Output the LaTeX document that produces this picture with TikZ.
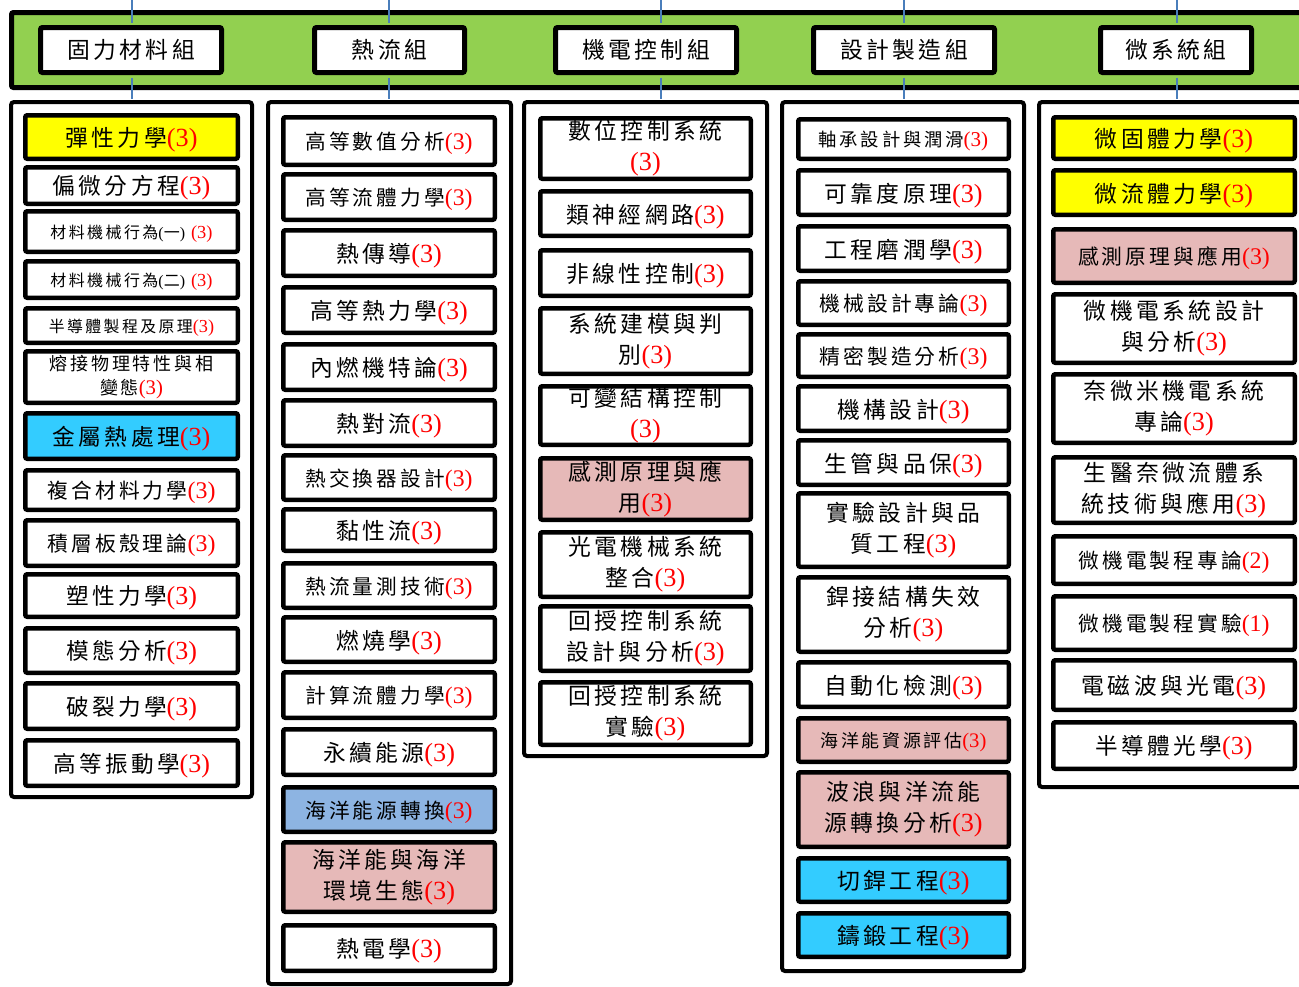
\documentclass[tikz,border=0pt]{standalone}
\usepackage{fontspec}
\setmainfont{Liberation Serif}
\newfontfamily\cjk{Noto Sans CJK TC}[LetterSpace=15]
\definecolor{bandgreen}{HTML}{92D050}
\definecolor{cyellow}{HTML}{FFFF00}
\definecolor{ccyan}{HTML}{33CCFF}
\definecolor{cpink}{HTML}{E6B9B8}
\definecolor{cblue}{HTML}{8DB4E2}
\definecolor{linkblue}{HTML}{4A7EBB}
\makeatletter
\newcommand\cz[1]{\fontsize{\fpeval{0.97*#1}}{\fpeval{1.32*#1}}\selectfont\cjk}
\newcommand\cred[1]{{\rmfamily\color{red}\fontsize{\fpeval{1.15*\f@size}}{\f@baselineskip}\selectfont(#1)}}
\makeatother
\tikzset{
  band/.style={draw=black, line width=5pt, fill=bandgreen, rounded corners=2pt, inner sep=0pt},
  head/.style={draw=black, line width=5pt, fill=white, rounded corners=2pt, inner sep=0pt, font=\cz{23.5}},
  colbox/.style={draw=black, line width=4pt, fill=white, rounded corners=3pt, inner sep=0pt},
  crs/.style={draw=black, line width=4.5pt, fill=white, rounded corners=2pt, inner sep=0pt, align=center,
    execute at begin node={\rule{0pt}{1.08em}}},
  fs/.style={font=\cz{#1}},
  link/.style={draw=linkblue, line width=1.5pt},
  c1w/.style={minimum width=212.5pt},
  c2w/.style={minimum width=211.5pt},
  c3w/.style={minimum width=210.5pt},
  c4w/.style={minimum width=210.5pt},
  c5w/.style={minimum width=241.5pt},
}
\begin{document}
\begin{tikzpicture}[x=1pt, y=-1pt]
\useasboundingbox (0,0) rectangle (1299,986);
\clip (0,0) rectangle (1299,986);
% green band and group headers
\node[band, minimum width=1308.5pt, minimum height=75pt] (bandbox) at (665.75,50) {};
\node[head, minimum width=181pt, minimum height=45pt] (h1) at (131,50) {固力材料組};
\node[head, minimum width=150pt, minimum height=45pt] (h2) at (389.5,50) {熱流組};
\node[head, minimum width=181pt, minimum height=45pt] (h3) at (646,50) {機電控制組};
\node[head, minimum width=181pt, minimum height=45pt] (h4) at (904,50) {設計製造組};
\node[head, minimum width=151pt, minimum height=45pt] (h5) at (1176,50) {微系統組};
% column containers
\node[colbox, minimum width=241pt, minimum height=695pt] (c1) at (131.5,449.5) {};
\node[colbox, minimum width=243pt, minimum height=882pt] (c2) at (389.5,543) {};
\node[colbox, minimum width=243pt, minimum height=654pt] (c3) at (645.5,429) {};
\node[colbox, minimum width=242pt, minimum height=869pt] (c4) at (903,536.5) {};
\node[colbox, minimum width=279pt, minimum height=685pt] (c5) at (1178.5,444.5) {};
% connectors
\coordinate (t1) at (132,0);
\coordinate (t2) at (389,0);
\coordinate (t3) at (661,0);
\coordinate (t4) at (904,0);
\coordinate (t5) at (1177,0);
\foreach \i in {1,...,5}{
  \draw[link, shorten >=2.5pt] (t\i) -- (t\i |- h\i.north);
  \draw[link, shorten <=2.5pt, shorten >=1pt] (t\i |- h\i.south) -- (t\i |- c\i.north);
}
% column 1
\node[crs, c1w, fs=23.5, fill=cyellow, minimum height=43.5pt] (a1) at (131.5,137) {彈性力學\cred{3}};
\node[crs, c1w, fs=23.4, minimum height=36.5pt] (a2) at (131.5,185.5) {偏微分方程\cred{3}};
\node[crs, c1w, fs=16.5, minimum height=40.5pt] (a3) at (131.5,231.5) {材料機械行為{\rmfamily(}一{\rmfamily)} \cred{3}};
\node[crs, c1w, fs=16.5, minimum height=36.5pt] (a4) at (131.5,279.5) {材料機械行為{\rmfamily(}二{\rmfamily)} \cred{3}};
\node[crs, c1w, fs=16.4, minimum height=34.5pt] (a5) at (131.5,325.5) {半導體製程及原理\cred{3}};
\node[crs, c1w, fs=18.6, minimum height=51.5pt] (a6) at (131.5,377) {熔接物理特性與相\\變態\cred{3}};
\node[crs, c1w, fs=23.4, fill=ccyan, minimum height=45.5pt] (a7) at (131.5,436) {金屬熱處理\cred{3}};
\node[crs, c1w, fs=21.4, minimum height=39.5pt] (a8) at (131.5,490) {複合材料力學\cred{3}};
\node[crs, c1w, fs=21.4, minimum height=45.5pt] (a9) at (131.5,543) {積層板殼理論\cred{3}};
\node[crs, c1w, fs=23.3, minimum height=42.5pt] (a10) at (131.5,595.5) {塑性力學\cred{3}};
\node[crs, c1w, fs=23.3, minimum height=44.5pt] (a11) at (131.5,650.5) {模態分析\cred{3}};
\node[crs, c1w, fs=23.3, minimum height=45.5pt] (a12) at (131.5,706) {破裂力學\cred{3}};
\node[crs, c1w, fs=23.3, minimum height=45.5pt] (a13) at (131.5,763) {高等振動學\cred{3}};
% column 2
\node[crs, c2w, fs=21.3, minimum height=47.5pt] (b1) at (389,141) {高等數值分析\cred{3}};
\node[crs, c2w, fs=21.3, minimum height=45.5pt] (b2) at (389,197) {高等流體力學\cred{3}};
\node[crs, c2w, fs=23.5, minimum height=45.5pt] (b3) at (389,253) {熱傳導\cred{3}};
\node[crs, c2w, fs=23.4, minimum height=45.5pt] (b4) at (389,310) {高等熱力學\cred{3}};
\node[crs, c2w, fs=23.4, minimum height=45.5pt] (b5) at (389,367) {內燃機特論\cred{3}};
\node[crs, c2w, fs=23.5, minimum height=45.5pt] (b6) at (389,423) {熱對流\cred{3}};
\node[crs, c2w, fs=21.3, minimum height=44.5pt] (b7) at (389,477.5) {熱交換器設計\cred{3}};
\node[crs, c2w, fs=23.5, minimum height=41.5pt] (b8) at (389,530) {黏性流\cred{3}};
\node[crs, c2w, fs=21.3, minimum height=44.5pt] (b9) at (389,585.5) {熱流量測技術\cred{3}};
\node[crs, c2w, fs=23.5, minimum height=44.5pt] (b10) at (389,639.5) {燃燒學\cred{3}};
\node[crs, c2w, fs=21.3, minimum height=45.5pt] (b11) at (389,695) {計算流體力學\cred{3}};
\node[crs, c2w, fs=23.5, minimum height=45.5pt] (b12) at (389,752) {永續能源\cred{3}};
\node[crs, c2w, fs=21.3, fill=cblue, minimum height=44.5pt] (b13) at (389,809.5) {海洋能源轉換\cred{3}};
\node[crs, c2w, fs=23.5, fill=cpink, minimum height=69.5pt] (b14) at (389,877) {海洋能與海洋\\環境生態\cred{3}};
\node[crs, c2w, fs=23.5, minimum height=45.5pt] (b15) at (389,948) {熱電學\cred{3}};
% column 3
\node[crs, c3w, fs=23.5, minimum height=60.5pt] (d1) at (645.5,148.5) {數位控制系統\\\cred{3}};
\node[crs, c3w, fs=23.5, minimum height=44.5pt] (d2) at (645.5,213.5) {類神經網路\cred{3}};
\node[crs, c3w, fs=23.5, minimum height=45.5pt] (d3) at (645.5,273) {非線性控制\cred{3}};
\node[crs, c3w, fs=23.5, minimum height=65.5pt] (d4) at (645.5,341) {系統建模與判\\別\cred{3}};
\node[crs, c3w, fs=23.5, minimum height=58.5pt] (d5) at (645.5,415.5) {可變結構控制\\\cred{3}};
\node[crs, c3w, fs=23.5, fill=cpink, minimum height=61.5pt] (d6) at (645.5,489) {感測原理與應\\用\cred{3}};
\node[crs, c3w, fs=23.5, minimum height=64.5pt] (d7) at (645.5,564.5) {光電機械系統\\整合\cred{3}};
\node[crs, c3w, fs=23.5, minimum height=64.5pt] (d8) at (645.5,638.5) {回授控制系統\\設計與分析\cred{3}};
\node[crs, c3w, fs=23.5, minimum height=62.5pt] (d9) at (645.5,713.5) {回授控制系統\\實驗\cred{3}};
% column 4
\node[crs, c4w, fs=18.9, minimum height=39.5pt] (e1) at (903.5,139) {軸承設計與潤滑\cred{3}};
\node[crs, c4w, fs=23.5, minimum height=44.5pt] (e2) at (903.5,192.5) {可靠度原理\cred{3}};
\node[crs, c4w, fs=23.5, minimum height=44.5pt] (e3) at (903.5,248.5) {工程磨潤學\cred{3}};
\node[crs, c4w, fs=21.4, minimum height=43.5pt] (e4) at (903.5,303) {機械設計專論\cred{3}};
\node[crs, c4w, fs=21.4, minimum height=42.5pt] (e5) at (903.5,355.5) {精密製造分析\cred{3}};
\node[crs, c4w, fs=23.5, minimum height=44.5pt] (e6) at (903.5,408.5) {機構設計\cred{3}};
\node[crs, c4w, fs=23.5, minimum height=44.5pt] (e7) at (903.5,462.5) {生管與品保\cred{3}};
\node[crs, c4w, fs=23.5, minimum height=73.5pt] (e8) at (903.5,530) {實驗設計與品\\質工程\cred{3}};
\node[crs, c4w, fs=23.5, minimum height=74.5pt] (e9) at (903.5,614.5) {銲接結構失效\\分析\cred{3}};
\node[crs, c4w, fs=23.5, minimum height=44.5pt] (e10) at (903.5,684.5) {自動化檢測\cred{3}};
\node[crs, c4w, fs=18.5, fill=cpink, minimum height=43.5pt] (e11) at (903.5,740) {海洋能資源評估\cred{3}};
\node[crs, c4w, fs=23.5, fill=cpink, minimum height=74.5pt] (e12) at (903.5,809.5) {波浪與洋流能\\源轉換分析\cred{3}};
\node[crs, c4w, fs=23.5, fill=ccyan, minimum height=43.5pt] (e13) at (903.5,880) {切銲工程\cred{3}};
\node[crs, c4w, fs=23.5, fill=ccyan, minimum height=43.5pt] (e14) at (903.5,935) {鑄鍛工程\cred{3}};
% column 5
\node[crs, c5w, fs=23.5, fill=cyellow, minimum height=41.5pt] (f1) at (1174,138) {微固體力學\cred{3}};
\node[crs, c5w, fs=23.5, fill=cyellow, minimum height=44.5pt] (f2) at (1174,192.5) {微流體力學\cred{3}};
\node[crs, c5w, fs=21.4, fill=cpink, minimum height=53.5pt] (f3) at (1174,256) {感測原理與應用\cred{3}};
\node[crs, c5w, fs=23.5, minimum height=68.5pt] (f4) at (1174,328.5) {微機電系統設計\\與分析\cred{3}};
\node[crs, c5w, fs=23.5, minimum height=68.5pt] (f5) at (1174,408.5) {奈微米機電系統\\專論\cred{3}};
\node[crs, c5w, fs=23.5, minimum height=65.5pt] (f6) at (1174,490) {生醫奈微流體系\\統技術與應用\cred{3}};
\node[crs, c5w, fs=21.3, minimum height=47.5pt] (f7) at (1174,560) {微機電製程專論\cred{2}};
\node[crs, c5w, fs=21.3, minimum height=53.5pt] (f8) at (1174,623) {微機電製程實驗\cred{1}};
\node[crs, c5w, fs=23.5, minimum height=49.5pt] (f9) at (1174,685) {電磁波與光電\cred{3}};
\node[crs, c5w, fs=23.3, minimum height=46.5pt] (f10) at (1174,745.5) {半導體光學\cred{3}};
\end{tikzpicture}
\end{document}
